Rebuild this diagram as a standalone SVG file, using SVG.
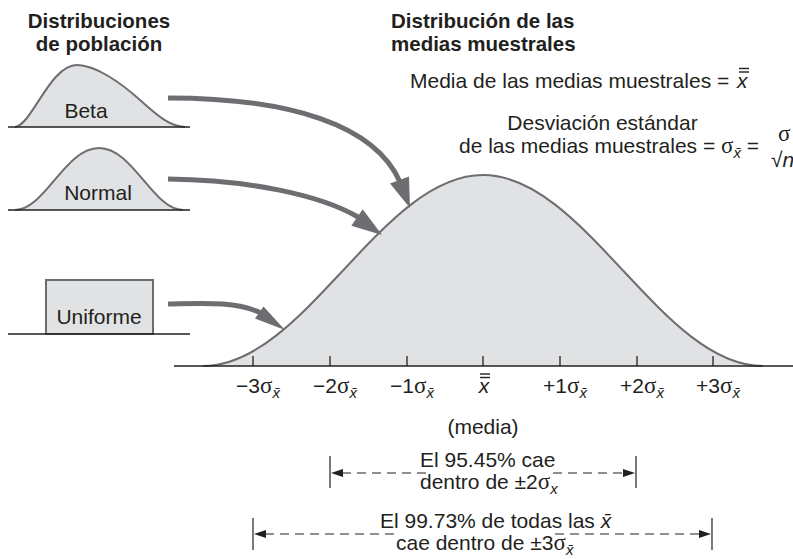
<svg xmlns="http://www.w3.org/2000/svg" width="793" height="559" viewBox="0 0 793 559">
<style>
text{font-family:"Liberation Sans",Arial,Helvetica,sans-serif;font-size:21px;fill:#231f20}
.h{font-weight:bold;font-size:20.5px}
.sig{font-family:"Liberation Serif","Times New Roman",serif;font-size:23px}
.sub{font-style:italic;font-size:15px}
.it{font-style:italic}
.dist{fill:#e1e2e4;stroke:#6d6e71;stroke-width:2}
.base{stroke:#231f20;stroke-width:1.5;fill:none}
.tick{stroke:#231f20;stroke-width:1.3}
.arr{fill:none;stroke:#6d6e71;stroke-width:5}
.head{fill:#6d6e71}
.dash{stroke:#231f20;stroke-width:1.2;stroke-dasharray:9 6;fill:none}
.vl{stroke:#231f20;stroke-width:1.2}
.ah{fill:#231f20}
.bar{stroke:#231f20;stroke-width:1.4}
</style>

<g id="titulos">
<text class="h" x="99" y="28" text-anchor="middle">Distribuciones</text>
<text class="h" x="99" y="51" text-anchor="middle">de población</text>
<text class="h" x="391" y="28">Distribución de las</text>
<text class="h" x="391" y="51">medias muestrales</text>
</g>

<g id="beta">
<path class="dist" d="M15,127 C32,125 50,65 77,65 C95,65 120,82 140,100 C160,118 170,126 185,127"/>
<line class="base" x1="8" y1="127" x2="190" y2="127"/>
<text x="86" y="118" text-anchor="middle">Beta</text>
</g>

<g id="normal">
<path class="dist" d="M15,210 C45,210 65,148 99,148 C133,148 153,210 183,210"/>
<line class="base" x1="8" y1="210" x2="190" y2="210"/>
<text x="98" y="200" text-anchor="middle">Normal</text>
</g>

<g id="uniforme">
<rect class="dist" x="46" y="280" width="107" height="54"/>
<line class="base" x1="8" y1="334" x2="190" y2="334"/>
<text x="99" y="324" text-anchor="middle">Uniforme</text>
</g>

<g id="muestral">
<path class="dist" d="M203,366 C254,366 298.4,318.25 343,270.5 C387.6,222.75 432,175 483,175 C534,175 578.4,222.75 623,270.5 C667.6,318.25 712,366 763,366"/>
<line class="base" x1="174" y1="366" x2="793" y2="366"/>
<g class="tick">
<line x1="253" y1="356" x2="253" y2="366"/>
<line x1="330" y1="356" x2="330" y2="366"/>
<line x1="407" y1="356" x2="407" y2="366"/>
<line x1="483" y1="356" x2="483" y2="366"/>
<line x1="560" y1="356" x2="560" y2="366"/>
<line x1="637" y1="356" x2="637" y2="366"/>
<line x1="713" y1="356" x2="713" y2="366"/>
</g>
</g>

<g id="formulas">
<text x="410" y="88">Media de las medias muestrales =</text>
<text class="it" x="737" y="88">x</text>
<line class="bar" x1="739" y1="68.5" x2="749" y2="68.5"/>
<line class="bar" x1="739" y1="72" x2="749" y2="72"/>
<text x="602.5" y="130" text-anchor="middle">Desviación estándar</text>
<text x="459" y="153">de las medias muestrales = <tspan class="sig">σ</tspan><tspan class="sub" dy="5">x̄</tspan><tspan dy="-5"> =</tspan></text>
<text class="sig" x="778" y="141">σ</text>
<text x="771" y="167">√<tspan class="it">n</tspan></text>
</g>

<g id="etiquetas">
<text x="258" y="393" text-anchor="middle">−3<tspan class="sig">σ</tspan><tspan class="sub" dy="5">x̄</tspan></text>
<text x="335" y="393" text-anchor="middle">−2<tspan class="sig">σ</tspan><tspan class="sub" dy="5">x̄</tspan></text>
<text x="412" y="393" text-anchor="middle">−1<tspan class="sig">σ</tspan><tspan class="sub" dy="5">x̄</tspan></text>
<text class="it" x="484" y="393" text-anchor="middle">x</text>
<line class="bar" x1="480" y1="374" x2="490" y2="374"/>
<line class="bar" x1="480" y1="377.5" x2="490" y2="377.5"/>
<text x="565" y="393" text-anchor="middle">+1<tspan class="sig">σ</tspan><tspan class="sub" dy="5">x̄</tspan></text>
<text x="642" y="393" text-anchor="middle">+2<tspan class="sig">σ</tspan><tspan class="sub" dy="5">x̄</tspan></text>
<text x="718" y="393" text-anchor="middle">+3<tspan class="sig">σ</tspan><tspan class="sub" dy="5">x̄</tspan></text>
<text x="483" y="434" text-anchor="middle">(media)</text>
</g>

<g id="rango95">
<line class="vl" x1="330" y1="456" x2="330" y2="488"/>
<line class="vl" x1="636" y1="456" x2="636" y2="488"/>
<text x="420" y="467">El 95.45% cae</text>
<text x="420" y="489">dentro de ±2<tspan class="sig">σ</tspan><tspan class="sub" dy="5">x</tspan></text>
</g>

<g id="rango99">
<line class="vl" x1="253" y1="518" x2="253" y2="550"/>
<line class="vl" x1="712" y1="518" x2="712" y2="550"/>
<text x="380" y="528">El 99.73% de todas las <tspan class="it">x̄</tspan></text>
<text x="396" y="550">cae dentro de ±3<tspan class="sig">σ</tspan><tspan class="sub" dy="5">x̄</tspan></text>
</g>

<g id="conectores">
<path class="arr" d="M168,98 C290,98 375,125 400,182"/>
<polygon class="head" points="410,208 390,183.5 409,176.5"/>
<path class="arr" d="M168,179 C250,180 320,195 358,217"/>
<polygon class="head" points="382,235 351.3,225.7 362.7,209.3"/>
<path class="arr" d="M168,304 C210,303 238,302 261,313"/>
<polygon class="head" points="285,330 255,318.5 263.5,306.5"/>
<path class="dash" d="M342,473 H426 M553,473 H624"/>
<polygon class="ah" points="331,473 343,469 343,477"/>
<polygon class="ah" points="635,473 623,469 623,477"/>
<path class="dash" d="M265,534 H395 M555,534 H700"/>
<polygon class="ah" points="254,534 266,530 266,538"/>
<polygon class="ah" points="711,534 699,530 699,538"/>
</g>
</svg>
